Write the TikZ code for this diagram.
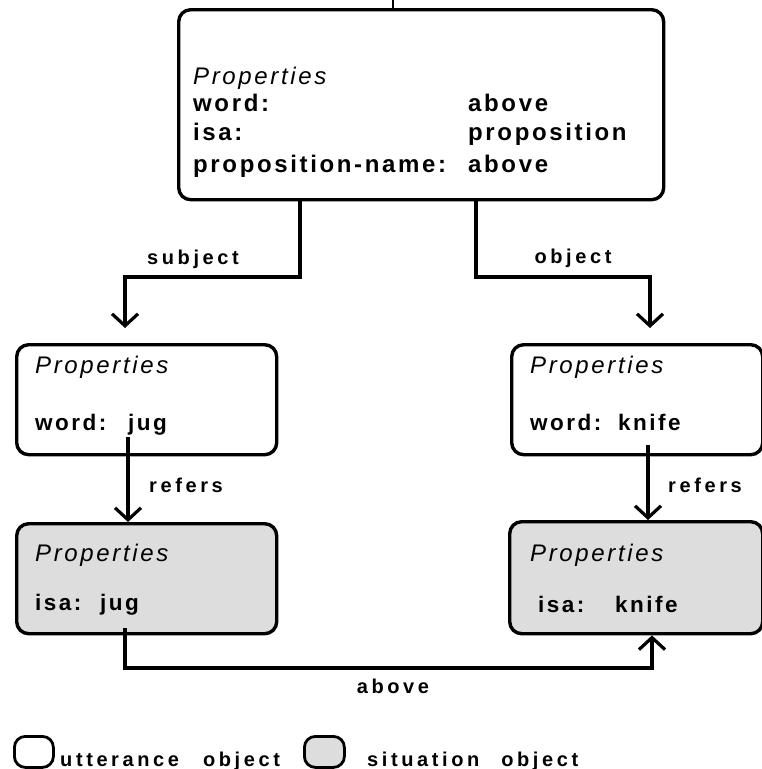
\documentclass[tikz,border=0pt]{standalone}
\usepackage{fontspec}
\setmainfont{Liberation Sans}[LetterSpace=11]
\newfontfamily\lblfont{Liberation Sans}[LetterSpace=18]
\usetikzlibrary{arrows.meta}
\definecolor{sitgray}{HTML}{DDDDDD}
\begin{document}
\begin{tikzpicture}[x=1pt,y=-1pt,
  box/.style={draw=black,line width=3.4pt,rounded corners=12pt,inner sep=0pt,anchor=north west},
  sitbox/.style={box,fill=sitgray},
  txt/.style={anchor=base west,inner sep=0pt,font=\fontsize{24}{28}\selectfont\bfseries},
  stxt/.style={anchor=base west,inner sep=0pt,font=\fontsize{22.5}{27}\selectfont\bfseries},
  itxt/.style={anchor=base west,inner sep=0pt,font=\fontsize{24}{28}\selectfont\itshape},
  lbl/.style={anchor=base,inner sep=0pt,font=\fontsize{20}{24}\selectfont\lblfont\bfseries},
  conn/.style={line width=3.2pt,line cap=butt,-{Straight Barb[length=12pt,width=26pt,line width=3.2pt]}}
]
\useasboundingbox (0,0) rectangle (762,769);

% boxes
\node[box,minimum width=485pt,minimum height=190pt] (top) at (177,8) {};
\node[box,minimum width=260pt,minimum height=110pt] (l1) at (15,343) {};
\node[box,minimum width=251pt,minimum height=110pt] (r1) at (510,343) {};
\node[sitbox,minimum width=260pt,minimum height=110pt] (l2) at (15,522) {};
\node[sitbox,minimum width=253pt,minimum height=112pt] (r2) at (508,520) {};

% top tick
\coordinate (tk) at (393,0);
\draw[line width=2pt] (tk) -- (top.north -| tk);

% top box text
\node[itxt] (tp) at (193,84) {Properties};
\node[txt] (tw) at (193,111) {word:};
\node[txt] (twv) at (468,111) {above};
\node[txt] (ti) at (193,140) {isa:};
\node[txt] (tiv) at (468,140) {proposition};
\node[txt] (tn) at (193,172) {proposition-name:};
\node[txt] (tnv) at (468,172) {above};

% left middle
\node[itxt] (l1p) at (35,373) {Properties};
\node[stxt] (l1w) at (35,430) {word:};
\node[stxt] (l1v) at (128,430) {jug};
% right middle
\node[itxt] (r1p) at (530,373) {Properties};
\node[stxt] (r1w) at (530,430) {word:};
\node[stxt] (r1v) at (618,430) {knife};
% left bottom
\node[itxt] (l2p) at (35,561) {Properties};
\node[stxt] (l2w) at (35,610) {isa:};
\node[stxt] (l2v) at (100,610) {jug};
% right bottom
\node[itxt] (r2p) at (530,561) {Properties};
\node[stxt] (r2w) at (538,612) {isa:};
\node[stxt] (r2v) at (615,612) {knife};

% connectors
\coordinate (s0) at (300,0);
\coordinate (s1) at (125,277);
\draw[conn] (top.south -| s0) |- (s1) -- ([yshift=15pt]l1.north -| s1);
\coordinate (o0) at (476,0);
\coordinate (o1) at (650,277);
\draw[conn] (top.south -| o0) |- (o1) -- ([yshift=15pt]r1.north -| o1);
\coordinate (rl) at (128,437);
\draw[conn] (rl) -- (l2.north -| rl);
\coordinate (rr) at (648,445);
\draw[conn] (rr) -- (r2.north -| rr);
\coordinate (a0) at (125,628);
\coordinate (a1) at (652,668);
\draw[conn] (a0) |- (a1) -- (r2.south -| a1);

% labels
\node[lbl] at (193,264) {subject};
\node[lbl] at (573,263) {object};
\node[lbl] at (186,492) {refers};
\node[lbl] at (705,492) {refers};
\node[lbl] at (393,693) {above};

% legend
\node[box,line width=2.8pt,rounded corners=11pt,minimum width=39pt,minimum height=31pt] (lg1) at (13,735) {};
\node[sitbox,line width=2.8pt,rounded corners=11pt,minimum width=40pt,minimum height=31pt] (lg2) at (303,735) {};
\node[lbl,anchor=base west] (lg1t) at (60,766) {utterance\hspace{24pt}object};
\node[lbl,anchor=base west] (lg2t) at (367,766) {situation\hspace{22pt}object};
\end{tikzpicture}
\end{document}
